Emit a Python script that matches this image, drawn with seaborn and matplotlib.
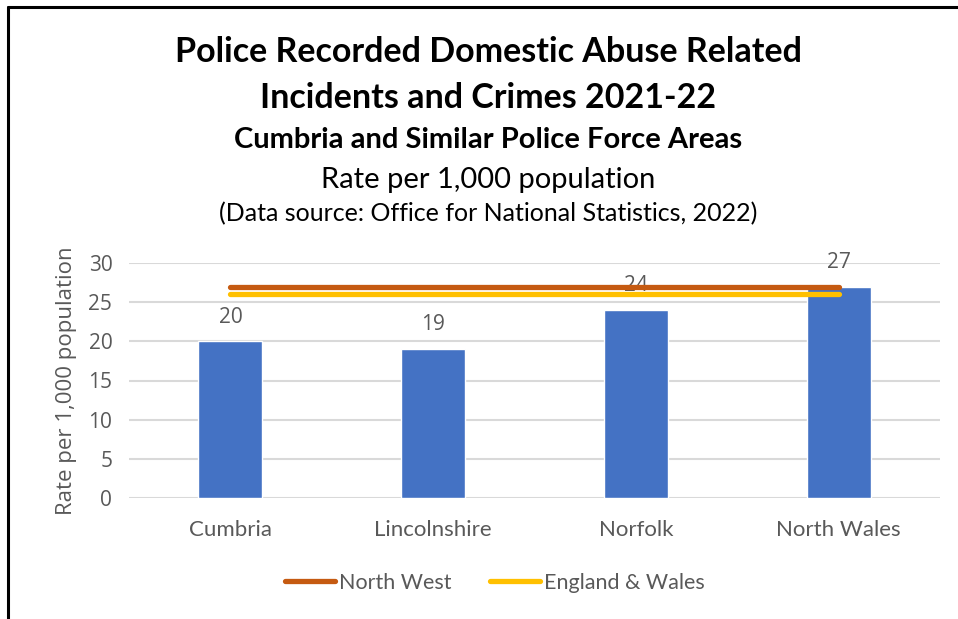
import numpy as np
import pandas as pd
import seaborn as sns
import matplotlib.pyplot as plt
from matplotlib.lines import Line2D

areas = ["Cumbria", "Lincolnshire", "Norfolk", "North Wales"]
rates = [20, 19, 24, 27]
north_west = [27, 27, 27, 27]
england_wales = [26, 26, 26, 26]
y_ticks = [0, 5, 10, 15, 20, 25, 30]

title_lines = [
    ("Police Recorded Domestic Abuse Related", 24.5, "bold"),
    ("Incidents and Crimes 2021-22", 24.5, "bold"),
    ("Cumbria and Similar Police Force Areas", 21, "bold"),
    ("Rate per 1,000 population", 21, "normal"),
    ("(Data source: Office for National Statistics, 2022)", 18, "normal"),
]

sns.set_theme(style="white")
plt.rcParams["font.family"] = ["Lato", "DejaVu Sans"]

grey = "#595959"
df = pd.DataFrame({"area": areas, "rate": rates})

fig = plt.figure(figsize=(9.58, 6.19), dpi=100)
ax = fig.add_axes([129 / 958, 1 - 498 / 619, (940 - 129) / 958, (498 - 263) / 619])

sns.barplot(data=df, x="area", y="rate", color="#4472C4", width=0.315,
            saturation=1, ax=ax, zorder=2)

# Comparison lines across the categories
xpos = np.arange(len(areas))
sns.lineplot(x=xpos, y=north_west, color="#C55A11", linewidth=3.8,
             solid_capstyle="round", ax=ax, zorder=3)
sns.lineplot(x=xpos, y=england_wales, color="#FFC000", linewidth=3.8,
             solid_capstyle="round", ax=ax, zorder=3)

# Data labels
for i, v in enumerate(rates):
    ax.text(i, v + 3.1, str(v), ha="center", va="center", fontsize=15,
            color=grey, family=["Open Sans", "DejaVu Sans"], clip_on=False,
            zorder=1)

ax.set_ylim(0, 30)
ax.set_xlim(-0.5, 3.5)
ax.set_yticks(y_ticks)
ax.yaxis.grid(True, color="#d9d9d9", linewidth=1.5, zorder=0)
ax.set_axisbelow(True)
for spine in ax.spines.values():
    spine.set_visible(False)
ax.tick_params(axis="both", length=0, colors=grey)
ax.tick_params(axis="x", labelsize=16, pad=16)
ax.tick_params(axis="y", labelsize=15, pad=12)
plt.setp(ax.get_yticklabels(), family=["Open Sans", "DejaVu Sans"])
ax.set_xlabel("")
ax.set_ylabel("Rate per 1,000 population", fontsize=16, color=grey,
              family=["Open Sans", "DejaVu Sans"], labelpad=8)

# Titles
ys = [52, 98, 140, 180, 214]
for (txt, size, weight), y in zip(title_lines, ys):
    fig.text(488 / 958, 1 - y / 619, txt, ha="center", va="center",
             fontsize=size, fontweight=weight, color="black")

# Legend
handles = [Line2D([], [], color="#C55A11", linewidth=3.8, solid_capstyle="round"),
           Line2D([], [], color="#FFC000", linewidth=3.8, solid_capstyle="round")]
fig.legend(handles, ["North West", "England & Wales"], loc="center",
           bbox_to_anchor=(495 / 958, 1 - 583 / 619), ncol=2, frameon=False,
           fontsize=15.5, labelcolor=grey, handlelength=2.3, handletextpad=0.2,
           columnspacing=1.8)

# Border lines (top and left)
fig.add_artist(Line2D([8 / 958, 1], [1 - 7 / 619, 1 - 7 / 619], color="black",
                      linewidth=2.2, transform=fig.transFigure))
fig.add_artist(Line2D([8 / 958, 8 / 958], [0, 1 - 7 / 619], color="black",
                      linewidth=2.2, transform=fig.transFigure))

fig.savefig("out.png", dpi=100, facecolor="white")
